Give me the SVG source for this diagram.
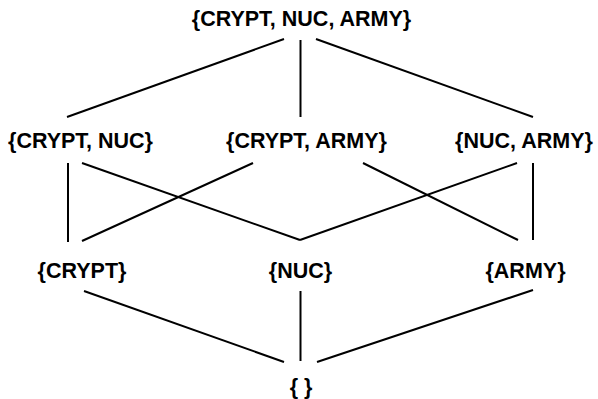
<svg xmlns="http://www.w3.org/2000/svg" width="598" height="399" viewBox="0 0 598 399">
<style>
text{font-family:"Liberation Sans",Arial,Helvetica,sans-serif;font-weight:bold;font-size:21.5px;fill:#000;text-anchor:middle}
line{stroke:#000;stroke-width:2}
</style>
<rect width="598" height="399" fill="#fff"/>
<g id="connectors">
<line x1="284" y1="39" x2="67" y2="117"/>
<line x1="300.5" y1="40" x2="300.5" y2="117"/>
<line x1="316" y1="39" x2="533" y2="117"/>
<line x1="68" y1="163" x2="68" y2="242"/>
<line x1="82" y1="163" x2="300" y2="240"/>
<line x1="253" y1="163" x2="82" y2="241"/>
<line x1="363" y1="163" x2="518" y2="240"/>
<line x1="517" y1="163" x2="300" y2="240"/>
<line x1="533" y1="163" x2="533" y2="240"/>
<line x1="84" y1="291" x2="284" y2="362"/>
<line x1="300.5" y1="291" x2="300.5" y2="361"/>
<line x1="533" y1="290" x2="317" y2="362"/>
</g>
<g id="n_all"><text x="301.5" y="26">{CRYPT, NUC, ARMY}</text></g>
<g id="n_crypt_nuc"><text x="80.5" y="147.5">{CRYPT, NUC}</text></g>
<g id="n_crypt_army"><text x="306.5" y="147.5">{CRYPT, ARMY}</text></g>
<g id="n_nuc_army"><text x="524" y="147.5">{NUC, ARMY}</text></g>
<g id="n_crypt"><text x="82" y="277.5">{CRYPT}</text></g>
<g id="n_nuc"><text x="300.5" y="277.5">{NUC}</text></g>
<g id="n_army"><text x="525.5" y="277.5">{ARMY}</text></g>
<g id="n_empty"><text x="301" y="394">{ }</text></g>
</svg>
